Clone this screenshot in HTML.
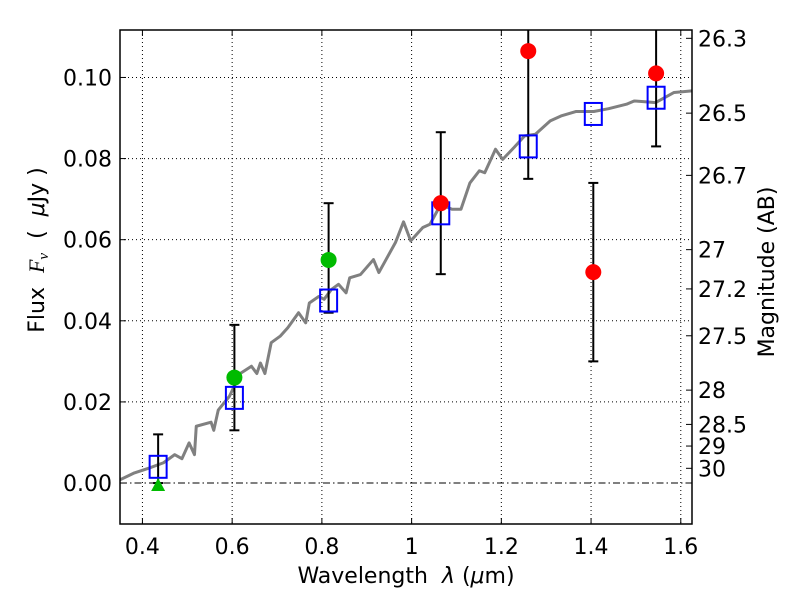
<!DOCTYPE html>
<html><head><meta charset="utf-8"><style>
html,body{margin:0;padding:0;background:#fff;}
svg{display:block;font-family:"DejaVu Sans","Liberation Sans",sans-serif;}
</style></head><body>
<svg id="chart" width="800" height="600" viewBox="0 0 800 600">
<rect x="0" y="0" width="800" height="600" fill="#fff"/>
<g id="grid"></g>
<g id="series"></g>
<g id="axes"></g>
<text x="406" y="583" font-size="22" text-anchor="middle">Wavelength&#160;&#160;<tspan font-style="italic">λ</tspan>&#160;(<tspan font-style="italic">μ</tspan>m)</text>
<text transform="translate(44,250) rotate(-90)" font-size="22" text-anchor="middle">Flux&#160;&#160;<tspan font-style="italic" font-family="Liberation Serif, serif">F<tspan font-size="15" dy="4">ν</tspan></tspan><tspan dy="-4">&#160;&#160;(&#160;&#160;</tspan><tspan font-style="italic">μ</tspan>Jy&#160;)</text>
<text transform="translate(774,272) rotate(-90)" font-size="22" text-anchor="middle">Magnitude (AB)</text>
</svg>
<script>
const xTicks=[0.4,0.6,0.8,1.0,1.2,1.4,1.6];
const xTickLabels=["0.4","0.6","0.8","1","1.2","1.4","1.6"];
const yTicks=[0,0.02,0.04,0.06,0.08,0.10];
const yTickLabels=["0.00","0.02","0.04","0.06","0.08","0.10"];
const magTicks=[26.3,26.5,26.7,27,27.2,27.5,28,28.5,29,30];
const magTickLabels=["26.3","26.5","26.7","27","27.2","27.5","28","28.5","29","30"];
const specWave=[0.35,0.382,0.415,0.447,0.472,0.488,0.504,0.516,0.52,0.553,0.559,0.569,0.594,0.618,0.643,0.655,0.663,0.673,0.687,0.707,0.724,0.748,0.764,0.772,0.793,0.805,0.821,0.837,0.854,0.862,0.886,0.915,0.927,0.943,0.964,0.982,0.998,1.025,1.041,1.065,1.09,1.11,1.13,1.151,1.163,1.187,1.203,1.228,1.252,1.276,1.309,1.333,1.366,1.406,1.439,1.479,1.496,1.52,1.544,1.585,1.625];
const specFlux=[0.0008,0.0025,0.0037,0.005,0.007,0.006,0.0099,0.007,0.014,0.015,0.013,0.018,0.0214,0.027,0.0288,0.027,0.0296,0.027,0.0346,0.0362,0.0383,0.042,0.0395,0.0444,0.046,0.0453,0.0477,0.049,0.0469,0.0506,0.0514,0.0551,0.0519,0.0551,0.0593,0.0644,0.0597,0.063,0.0638,0.0687,0.0675,0.0675,0.074,0.077,0.0765,0.0823,0.0798,0.0827,0.0856,0.086,0.0893,0.0905,0.0916,0.0916,0.0923,0.0934,0.0942,0.094,0.0938,0.0963,0.0967];
const modelWave=[0.435,0.605,0.815,1.065,1.26,1.405,1.545];
const modelFlux=[0.004,0.021,0.045,0.0665,0.083,0.091,0.095];
const obsWave=[0.435,0.605,0.815,1.065,1.26,1.405,1.545];
const obsFlux=[0.0,0.026,0.055,0.069,0.1065,0.052,0.101];
const obsLow=[0.0,0.013,0.042,0.0515,0.075,0.030,0.083];
const obsHigh=[0.012,0.039,0.069,0.0865,0.14,0.074,0.13];
const obsColor=["#00bb00","#00bb00","#00bb00","red","red","red","red"];
const obsUpperLimit=[true,false,false,false,false,false,false];

const L=120,R=692,T=30,B=524;
const XMIN=0.35,XMAX=1.625,YMIN=-0.0101,YMAX=0.1117;
const sx=v=>L+(v-XMIN)/(XMAX-XMIN)*(R-L);
const sy=v=>B-(v-YMIN)/(YMAX-YMIN)*(B-T);
const magToFlux=m=>Math.pow(10,(23.9-m)/2.5);
const NS="http://www.w3.org/2000/svg";
function mk(tag,attrs,parent){const e=document.createElementNS(NS,tag);for(const k in attrs)e.setAttribute(k,attrs[k]);parent.appendChild(e);return e;}
const grid=document.getElementById('grid'),series=document.getElementById('series'),axes=document.getElementById('axes');
const cp=mk('clipPath',{id:'clip'},document.getElementById('chart'));
mk('rect',{x:L,y:T,width:R-L,height:B-T},cp);

xTicks.forEach((v,i)=>{
 const g=mk('line',{x1:sx(v),x2:sx(v),y1:T,y2:B,stroke:'#000','stroke-width':1,'stroke-dasharray':'1,3'},grid);
 
 
 mk('line',{x1:sx(v),x2:sx(v),y1:B,y2:B-6,stroke:'#000'},axes);
 mk('line',{x1:sx(v),x2:sx(v),y1:T,y2:T+6,stroke:'#000'},axes);
 const t=mk('text',{x:sx(v),y:B+30,'font-size':22,'text-anchor':'middle'},axes);
 t.textContent=xTickLabels[i];
 
 
});
yTicks.forEach((v,i)=>{
 const g=mk('line',{x1:L,x2:R,y1:sy(v),y2:sy(v),stroke:'#000','stroke-width':1,'stroke-dasharray':v===0?'7,3,1.5,3':'1,3'},grid);
 
 
 mk('line',{x1:L,x2:L+6,y1:sy(v),y2:sy(v),stroke:'#000'},axes);
 const t=mk('text',{x:L-8,y:sy(v)+8,'font-size':22,'text-anchor':'end'},axes);
 t.textContent=yTickLabels[i];
 
 
});
magTicks.forEach((m,i)=>{
 const y=sy(magToFlux(m));
 mk('line',{x1:R-6,x2:R,y1:y,y2:y,stroke:'#000'},axes);
 const t=mk('text',{x:R+6,y:y+8,'font-size':22},axes);
 t.textContent=magTickLabels[i];
 
 
});
const sp=mk('polyline',{points:specWave.map((w,i)=>sx(w)+','+sy(specFlux[i])).join(' '),fill:'none',stroke:'#808080','stroke-width':3,'stroke-linejoin':'round','clip-path':'url(#clip)'},series);


obsWave.forEach((w,i)=>{
 const x=sx(w),y1=sy(obsLow[i]),y2=sy(obsHigh[i]);
 const g=mk('g',{'clip-path':'url(#clip)'},series);
 
 
 mk('line',{x1:x,x2:x,y1:y1,y2:y2,stroke:'#000','stroke-width':2},g);
 mk('line',{x1:x-5,x2:x+5,y1:y1,y2:y1,stroke:'#000','stroke-width':2},g);
 mk('line',{x1:x-5,x2:x+5,y1:y2,y2:y2,stroke:'#000','stroke-width':2},g);
});
modelWave.forEach((w,i)=>{
 const r=mk('rect',{x:sx(w)-8.5,y:sy(modelFlux[i])-11,width:17,height:22,fill:'none',stroke:'#0000ff','stroke-width':2},series);
 
 
});
obsWave.forEach((w,i)=>{
 const x=sx(w),y=sy(obsFlux[i]);
 let e;
 if(obsUpperLimit[i]){
  e=mk('polygon',{points:`${x-7},${y+8} ${x+7},${y+8} ${x},${y-5}`,fill:obsColor[i]},series);
 } else {
  e=mk('circle',{cx:x,cy:y,r:8,fill:obsColor[i]},series);
 }
 
 
});
const fr=mk('rect',{x:L,y:T,width:R-L,height:B-T,fill:'none',stroke:'#000','stroke-width':1.5},axes);


</script>
</body></html>
